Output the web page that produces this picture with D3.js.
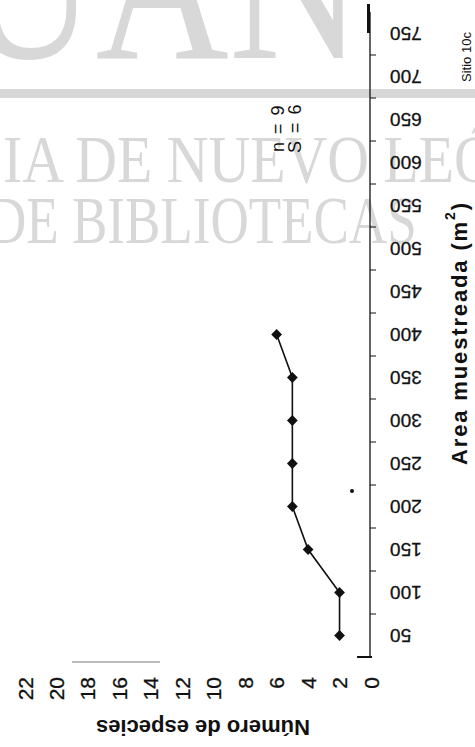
<!DOCTYPE html>
<html><head><meta charset="utf-8">
<script src="https://cdn.jsdelivr.net/npm/d3@7"></script>
<style>body{margin:0;background:#fff}svg{display:block}</style>
</head><body>
<svg id="c" width="475" height="747"></svg>
<script>
// ---- data ----
const categories = [50,100,150,200,250,300,350,400,450,500,550,600,650,700,750];
const sampledArea = [50,100,150,200,250,300,350,400];
const speciesCount = [2,2,4,5,5,5,5,6];
const valueTicks = [0,2,4,6,8,10,12,14,16,18,20,22];
const xTitle = "Area muestreada (m";
const yTitle = "Número de especies";
const siteLabel = "Sitio 10c";
const statLines = ["n = 9","S = 6"];
const watermarkTop = "UAN";
const watermarkLine1 = "IA DE NUEVO LEÓN";
const watermarkLine2 = "DE BIBLIOTECAS";

const svg = d3.select("#c");
const wm = "#d8d8d8";

// ---- watermark ----
const gW = svg.append("g");
gW.append("rect").attr("x",0).attr("y",89).attr("width",475).attr("height",9).attr("fill",wm);
gW.append("text").attr("transform","translate(-38,58) scale(0.84,1)")
  .attr("font-family","Liberation Serif").attr("font-size",220).attr("fill",wm).text(watermarkTop);
gW.append("text").attr("transform","translate(3,182) scale(0.85,1)")
  .attr("font-family","Liberation Serif").attr("font-size",68).attr("fill",wm).text(watermarkLine1);
gW.append("text").attr("transform","translate(-12,243) scale(0.78,1)")
  .attr("font-family","Liberation Serif").attr("font-size",68).attr("fill",wm).text(watermarkLine2);

// ---- scales (chart drawn rotated: category axis vertical, value axis horizontal) ----
const yCat = d3.scaleBand().domain(categories).range([657, 12]);
const xVal = d3.scaleLinear().domain([0,22]).range([371, 25]);
const cy = c => yCat(c) + yCat.bandwidth()/2;

const ink = "#111";
// category axis line
svg.append("line").attr("x1",370).attr("x2",370).attr("y1",yCat.range()[1]).attr("y2",yCat.range()[0])
  .attr("stroke",ink).attr("stroke-width",1.3);
svg.append("line").attr("x1",368.5).attr("x2",368.5).attr("y1",4).attr("y2",33)
  .attr("stroke",ink).attr("stroke-width",3);
svg.append("line").attr("x1",357).attr("x2",372).attr("y1",657).attr("y2",657)
  .attr("stroke",ink).attr("stroke-width",2);
// ticks between categories
svg.selectAll(".tk").data(categories.slice(0,-1)).join("line")
  .attr("x1",370).attr("x2",376)
  .attr("y1",d=>yCat(d)).attr("y2",d=>yCat(d))
  .attr("stroke",ink).attr("stroke-width",1);
// category labels (upside down)
svg.selectAll(".cl").data(categories).join("text")
  .attr("transform",d=>`translate(390,${cy(d)}) rotate(180)`)
  .attr("text-anchor","end").attr("dominant-baseline","central")
  .attr("font-family","Liberation Sans").attr("font-size",19).attr("fill",ink)
  .attr("stroke",ink).attr("stroke-width",0.3)
  .text(d=>d);
// value labels
svg.selectAll(".vl").data(valueTicks).join("text")
  .attr("transform",d=>`translate(${xVal(d)},677) rotate(-90)`)
  .attr("text-anchor","end").attr("dominant-baseline","central")
  .attr("font-family","Liberation Sans").attr("font-size",21).attr("fill",ink)
  .attr("stroke",ink).attr("stroke-width",0.3)
  .text(d=>d);

// stray marks from the scan
svg.append("line").attr("x1",72).attr("x2",160).attr("y1",662).attr("y2",662).attr("stroke","#777").attr("stroke-width",1);
svg.append("circle").attr("cx",352).attr("cy",491).attr("r",2).attr("fill",ink);

// ---- series ----
const pts = sampledArea.map((a,i)=>({a, v:speciesCount[i]}));
svg.append("path").datum(pts)
  .attr("d", d3.line().x(d=>xVal(d.v)).y(d=>cy(d.a)))
  .attr("fill","none").attr("stroke",ink).attr("stroke-width",1.6);
svg.selectAll(".pt").data(pts).join("path")
  .attr("transform",d=>`translate(${xVal(d.v)},${cy(d.a)}) rotate(45)`)
  .attr("d", d3.symbol(d3.symbolSquare, 58)).attr("fill",ink);

// ---- titles ----
svg.append("text").attr("transform","translate(203,727) rotate(180)")
  .attr("text-anchor","middle").attr("dominant-baseline","central")
  .attr("font-family","Liberation Sans").attr("font-weight","bold").attr("font-size",22).attr("fill",ink)
  .text(yTitle);
const xt = svg.append("text").attr("transform","translate(459,334) rotate(-90)")
  .attr("text-anchor","middle").attr("dominant-baseline","central")
  .attr("font-family","Liberation Sans").attr("font-weight","bold").attr("font-size",22).attr("fill",ink)
  .attr("textLength",262).attr("lengthAdjust","spacing");
xt.append("tspan").text(xTitle);
xt.append("tspan").attr("font-size",14).attr("dy",-9).text("2");
xt.append("tspan").attr("dy",9).text(")");

svg.append("text").attr("transform","translate(466,57) rotate(-90)")
  .attr("text-anchor","middle").attr("dominant-baseline","central")
  .attr("font-family","Liberation Sans").attr("font-size",13).attr("fill",ink).text(siteLabel);
svg.selectAll(".st").data(statLines).join("text")
  .attr("transform",(d,i)=>`translate(${278+i*17},128) rotate(-90)`)
  .attr("text-anchor","middle").attr("dominant-baseline","central")
  .attr("font-family","Liberation Sans").attr("font-size",18).attr("letter-spacing",1.5).attr("fill",ink)
  .text(d=>d);
</script>
</body></html>
